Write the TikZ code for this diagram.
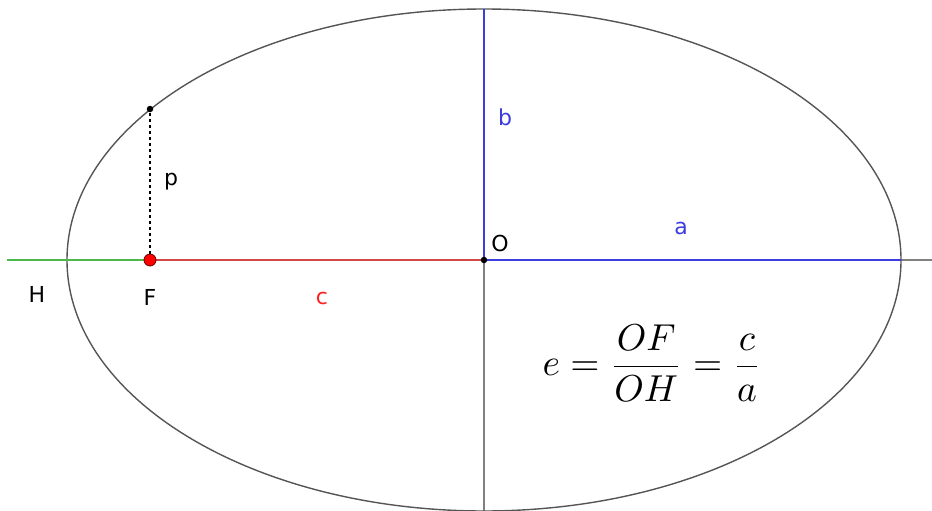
\documentclass[tikz,border=0pt]{standalone}
\usepackage{amsmath}
\usepackage{fontspec}
\usepackage{graphicx}
\setmainfont{DejaVu Sans}
\definecolor{axgrey}{HTML}{808080}
\definecolor{elgrey}{HTML}{555555}
\definecolor{myblue}{HTML}{3C3CE0}
\definecolor{myred}{HTML}{D04848}
\definecolor{mygreen}{HTML}{4CBB4C}
\definecolor{labred}{HTML}{FF2020}
\tikzset{
  axis/.style={draw=axgrey,line width=1.6pt},
  seg/.style={line width=2.6pt},
  lab/.style={font=\fontsize{22}{26}\selectfont,inner sep=0pt},
  dot/.style={circle,fill=black,inner sep=0pt,minimum size=6.5pt}
}
\begin{document}
\begin{tikzpicture}[x=1pt,y=-1pt]
\useasboundingbox (0,0) rectangle (932,511);
\coordinate (O) at (484,260);
\coordinate (F) at (150,260);
\coordinate (L) at (7,260);
\coordinate (R) at (932,260);
\coordinate (Rt) at (901,260);
\coordinate (T) at (484,9);
\coordinate (B) at (484,511);
\coordinate (P) at (150,109);
% axes
\draw[axis] (L) -- (R);
\draw[axis] (O) -- (B);
% ellipse
\draw[draw=elgrey,line width=1.4pt] (O) ellipse [x radius=417,y radius=251];
% segments
\draw[seg,mygreen] (L) -- (F);
\draw[seg,myred] (F) -- (O);
\draw[seg,myblue] (O) -- (Rt);
\draw[seg,myblue] (O) -- (T);
\draw[line width=1.2pt,dash pattern=on 3pt off 3pt] (F) -- (P);
% points
\node[dot] (Od) at (O) {};
\node[dot] (Pd) at (P) {};
\node[circle,fill=red,draw=black!60!red,line width=0.8pt,inner sep=0pt,minimum size=12pt] (Fd) at (F) {};
% labels
\node[lab] (lH) at (37,294) {H};
\node[lab] (lF) at (150,297) {F};
\node[lab,labred] (lc) at (322,298) {c};
\node[lab] (lp) at (171,182) {p};
\node[lab,myblue] (lb) at (505,117) {b};
\node[lab] (lO) at (500,243) {O};
\node[lab,myblue] (la) at (681,228) {a};
\node[inner sep=0pt] (eq) at (652,363) {\resizebox{219pt}{!}{$e=\dfrac{OF}{OH}=\dfrac{c}{a}$}};
\end{tikzpicture}
\end{document}
